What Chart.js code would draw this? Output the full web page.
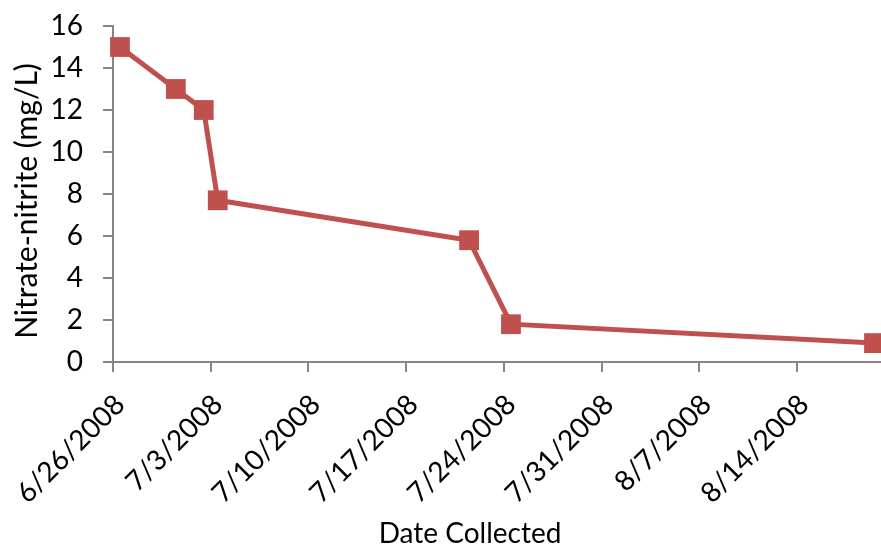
<!DOCTYPE html>
<html>
<head>
<meta charset="utf-8">
<script src="https://cdn.jsdelivr.net/npm/chart.js@4/dist/chart.umd.min.js"></script>
<style>
  html, body { margin: 0; padding: 0; background: #ffffff; }
  #wrap { width: 881px; height: 546px; }
</style>
</head>
<body>
<div id="wrap"><canvas id="chart" width="881" height="546"></canvas></div>
<script>
// Sampling dates and measured nitrate-nitrite concentrations (mg/L)
const sampleDates = ['6/26/2008', '6/30/2008', '7/2/2008', '7/3/2008', '7/21/2008', '7/24/2008', '8/19/2008'];
const nitrateNitrite = [15, 13, 12, 7.7, 5.8, 1.8, 0.9];

// Weekly date ticks on the x axis and value ticks on the y axis
const dateTickLabels = ['6/26/2008', '7/3/2008', '7/10/2008', '7/17/2008', '7/24/2008', '7/31/2008', '8/7/2008', '8/14/2008'];
const axisStartDate = '6/26/2008';
const axisEndDate = '8/20/2008';
const yTickValues = [0, 2, 4, 6, 8, 10, 12, 14, 16];

const xTitle = 'Date Collected';
const yTitle = 'Nitrate-nitrite (mg/L)';

const FONT = 'Lato, "Open Sans", sans-serif';
const FONT_SIZE = 28;
const TITLE_SIZE = 30;
const AXIS_GREY = '#868686';
const SERIES_RED = '#C0504D';

function toUTC(str) {
  const [m, d, y] = str.split('/').map(Number);
  return Date.UTC(y, m - 1, d);
}
const DAY = 86400000;
const origin = toUTC(axisStartDate);
function dayIndex(str) { return (toUTC(str) - origin) / DAY; }
function formatDay(v) {
  const dt = new Date(origin + Math.round(v) * DAY);
  return (dt.getUTCMonth() + 1) + '/' + dt.getUTCDate() + '/' + dt.getUTCFullYear();
}

// Each sample sits in the middle of its day slot on the date axis
const points = sampleDates.map((d, i) => ({ x: dayIndex(d) + 0.5, y: nitrateNitrite[i] }));

// Axis titles, positioned by hand relative to the plot
const axisTitlePlugin = {
  id: 'axisTitles',
  afterDraw(chart) {
    const ctx = chart.ctx;
    ctx.save();
    ctx.fillStyle = '#000000';
    ctx.textAlign = 'center';
    ctx.font = FONT_SIZE + 'px ' + FONT;
    ctx.textBaseline = 'alphabetic';
    ctx.fillText(xTitle, 470, 543);

    ctx.font = TITLE_SIZE + 'px ' + FONT;
    ctx.textBaseline = 'middle';
    ctx.translate(27, 201);
    ctx.rotate(-Math.PI / 2);
    ctx.fillText(yTitle, 0, 0);
    ctx.restore();
  }
};

new Chart(document.getElementById('chart'), {
  type: 'line',
  data: {
    datasets: [{
      data: points,
      borderColor: SERIES_RED,
      backgroundColor: SERIES_RED,
      borderWidth: 5,
      pointStyle: 'rect',
      pointRadius: 14,
      pointHoverRadius: 14,
      pointBorderWidth: 0,
      tension: 0,
      clip: false
    }]
  },
  options: {
    responsive: false,
    animation: false,
    events: [],
    layout: { autoPadding: false, padding: { top: 26, right: 0, left: 0, bottom: 0 } },
    plugins: { legend: { display: false }, tooltip: { enabled: false } },
    scales: {
      x: {
        type: 'linear',
        min: dayIndex(axisStartDate),
        max: dayIndex(axisEndDate),
        afterBuildTicks(scale) {
          scale.ticks = dateTickLabels.map(d => ({ value: dayIndex(d) }));
        },
        afterFit(scale) {
          scale.height = 546 - 362;
          scale.paddingLeft = 0;
          scale.paddingRight = 0;
        },
        ticks: {
          minRotation: 45,
          maxRotation: 45,
          autoSkip: false,
          padding: 16,
          labelOffset: 7,
          color: '#000000',
          font: { family: FONT, size: FONT_SIZE },
          callback: (v) => formatDay(v)
        },
        grid: {
          drawOnChartArea: false,
          drawTicks: true,
          tickLength: 10,
          color: AXIS_GREY,
          lineWidth: 2
        },
        border: { color: AXIS_GREY, width: 2 }
      },
      y: {
        min: 0,
        max: 16,
        afterBuildTicks(scale) {
          scale.ticks = yTickValues.map(v => ({ value: v }));
        },
        afterFit(scale) {
          scale.width = 113;
          scale.paddingTop = 0;
          scale.paddingBottom = 0;
        },
        ticks: {
          padding: 20,
          color: '#000000',
          font: { family: FONT, size: FONT_SIZE }
        },
        grid: {
          drawOnChartArea: false,
          drawTicks: true,
          tickLength: 10,
          color: AXIS_GREY,
          lineWidth: 2
        },
        border: { color: AXIS_GREY, width: 2 }
      }
    }
  },
  plugins: [axisTitlePlugin]
});
</script>
</body>
</html>
